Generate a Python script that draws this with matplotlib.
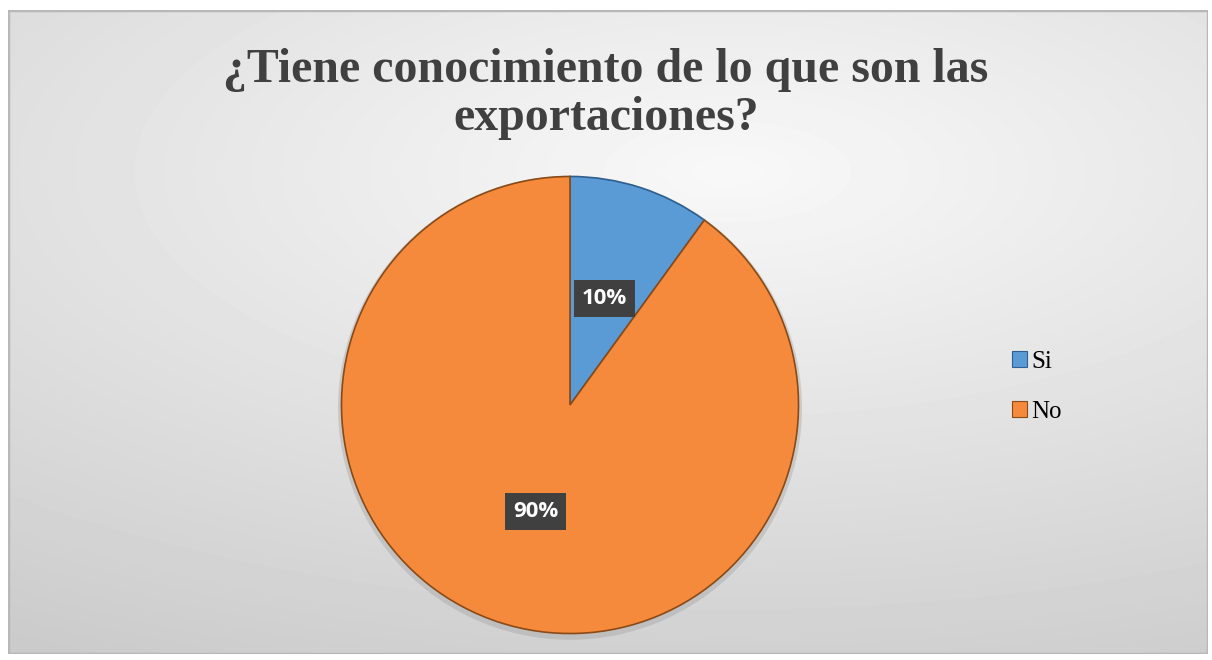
import numpy as np
import matplotlib.pyplot as plt
from matplotlib.patches import Rectangle

# Data
categories = ["Si", "No"]
values = [10, 90]
colors = ["#5B9BD5", "#F58A3C"]
title = "¿Tiene conocimiento de lo que son las\nexportaciones?"

fig = plt.figure(figsize=(12.12, 6.6), dpi=100)
fig.patch.set_facecolor("white")

# ---- background panel with soft gradient ----
bg = fig.add_axes([8 / 1212, 6 / 660, 1200 / 1212, 644 / 660])
yy, xx = np.mgrid[0:1:200j, 0:1:400j]
r = np.sqrt(((xx - 0.6) * 1.0) ** 2 + ((yy - 0.25) * 1.3) ** 2)
grad = np.clip(1 - r * 0.9, 0, 1)
bg.imshow(grad, cmap="gray", vmin=-4.5, vmax=1.15, aspect="auto", extent=[0, 1, 0, 1],
          origin="upper", interpolation="bicubic")
bg.add_patch(Rectangle((0, 0), 1, 1, fill=False, edgecolor="#b8b8b8", lw=2.5, transform=bg.transAxes))
bg.set_axis_off()

# ---- pie ----
ax = fig.add_axes([(570 - 232) / 1212, (660 - 405 - 232) / 660, 464 / 1212, 464 / 660])
# soft shadow
ax.pie([1], radius=1.0, colors=["#9a9a9a"], center=(0.0, -0.012),
       wedgeprops=dict(alpha=0.35, linewidth=0))
wedges, texts, autotexts = ax.pie(
    values, colors=colors, startangle=90, counterclock=False,
    radius=0.985, autopct="%d%%", pctdistance=0.49,
    wedgeprops=dict(edgecolor="#8a4a16", linewidth=1.2),
    textprops=dict(color="white", fontsize=16, fontweight="bold", family="Open Sans"),
)
wedges[0].set_edgecolor("#2f5f8f")
for t in autotexts:
    t.set_bbox(dict(boxstyle="square,pad=0.35", facecolor="#404040", edgecolor="none"))
ax.set_xlim(-1, 1)
ax.set_ylim(-1, 1)
ax.set_aspect("equal")
ax.set_axis_off()

# ---- title ----
fig.text(0.5, 0.928, title, ha="center", va="top", fontsize=34.5, fontweight="bold",
         family="Liberation Serif", color="#404040", linespacing=1.12)

# ---- legend ----
leg = fig.legend(wedges, categories, loc="center left", bbox_to_anchor=(990 / 1212, 1 - 387 / 660),
                 frameon=False, prop=dict(family="Liberation Serif", size=18),
                 handlelength=0.6, handleheight=0.6, handletextpad=0.15, labelspacing=1.1)
for h in leg.legend_handles:
    h.set_linewidth(0.8)

fig.savefig("out.png", dpi=100)
